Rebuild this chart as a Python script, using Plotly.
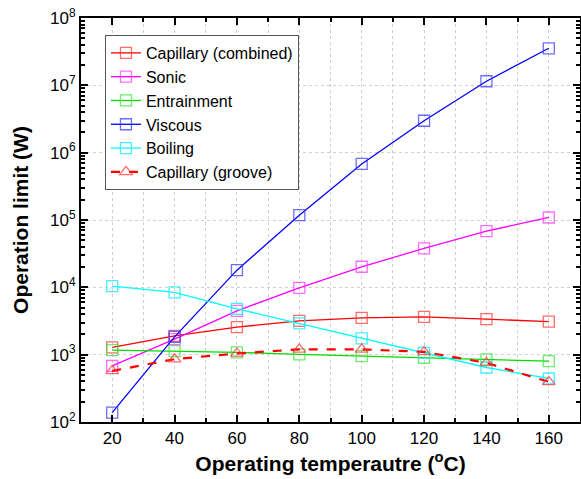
import plotly.graph_objects as go

temps = [20, 40, 60, 80, 100, 120, 140, 160]
capillary_combined = [1280, 1900, 2560, 3180, 3520, 3650, 3370, 3090]
sonic = [680, 1700, 4480, 9840, 20200, 37800, 68400, 109000]
entrainment = [1170, 1130, 1080, 1010, 950, 900, 850, 800]
viscous = [138, 1840, 18000, 118000, 680000, 2980000, 11500000, 35500000]
boiling = [10400, 8400, 4800, 2910, 1740, 1060, 645, 443]
capillary_groove = [574, 857, 1042, 1200, 1200, 1100, 755, 395]

y_tickvals = [1e2, 1e3, 1e4, 1e5, 1e6, 1e7, 1e8]
y_ticktext = ["10<sup>2</sup>", "10<sup>3</sup>", "10<sup>4</sup>", "10<sup>5</sup>",
              "10<sup>6</sup>", "10<sup>7</sup>", "10<sup>8</sup>"]
y_minor = [m * 10 ** e for e in range(2, 8) for m in range(2, 10)]

series = [
    ("Capillary (combined)", capillary_combined, "#ff0000", "rgba(255,60,60,0.75)", "square-open", "solid", 1.3),
    ("Sonic", sonic, "#ff00ff", "rgba(255,60,255,0.75)", "square-open", "solid", 1.3),
    ("Entrainment", entrainment, "#00dd00", "rgba(60,230,60,0.75)", "square-open", "solid", 1.3),
    ("Viscous", viscous, "#0000ff", "rgba(60,60,255,0.75)", "square-open", "solid", 1.3),
    ("Boiling", boiling, "#00ffff", "rgba(40,235,255,0.85)", "square-open", "solid", 1.3),
    ("Capillary (groove)", capillary_groove, "#ff0000", "rgba(255,60,60,0.75)", "triangle-up-open", "dash", 2.2),
]

fig = go.Figure()
for name, vals, lc, mc, sym, dash, lw in series:
    fig.add_trace(go.Scatter(
        x=temps, y=vals, name=name, mode="lines+markers",
        line=dict(color=lc, width=lw, dash=dash),
        marker=dict(symbol=sym, size=11, color=mc, line=dict(color=mc, width=1.3)),
    ))

font_family = "Liberation Sans, Arial, sans-serif"
fig.update_layout(
    width=581, height=479,
    margin=dict(l=81, r=1, t=18, b=57, autoexpand=False),
    paper_bgcolor="white", plot_bgcolor="white",
    font=dict(family=font_family, size=16, color="black"),
    legend=dict(
        x=0.048, y=0.958, xanchor="left", yanchor="top",
        bgcolor="white", bordercolor="#555555", borderwidth=1,
        font=dict(size=16), tracegroupgap=0, itemwidth=30,
    ),
    showlegend=True,
)
fig.update_xaxes(
    range=[10, 170], tick0=20, dtick=20, automargin=False,
    ticks="inside", ticklen=7, tickwidth=1.5, tickcolor="black",
    showline=True, linewidth=2, linecolor="black", mirror="allticks",
    showgrid=True, gridcolor="#d0d0d0", griddash="dot", gridwidth=1,
    minor=dict(dtick=10, tick0=10, ticks="inside", ticklen=4, tickcolor="black",
               showgrid=True, gridcolor="#d0d0d0", griddash="dot"),
    tickfont=dict(size=17), ticklabeloverflow="allow",
    title=dict(text="<b>Operating temperautre (<sup>o</sup>C)</b>", font=dict(size=21), standoff=9),
    zeroline=False,
)
fig.update_yaxes(
    type="log", range=[2, 8], automargin=False,
    tickmode="array", tickvals=y_tickvals, ticktext=y_ticktext,
    ticks="inside", ticklen=7, tickwidth=1.5, tickcolor="black",
    showline=True, linewidth=2, linecolor="black", mirror="allticks",
    showgrid=True, gridcolor="#d0d0d0", griddash="dot", gridwidth=1,
    minor=dict(tickmode="array", tickvals=y_minor, ticks="inside", ticklen=4,
               tickcolor="black", showgrid=False),
    tickfont=dict(size=17), ticklabeloverflow="allow",
    title=dict(text="<b>Operation limit (W)</b>", font=dict(size=21), standoff=16),
    zeroline=False,
)

# remove the page's default body margin so the figure fills the window exactly
fig.write_html("out.html", config={"displayModeBar": False},
               post_script="document.body.style.margin='0';")
